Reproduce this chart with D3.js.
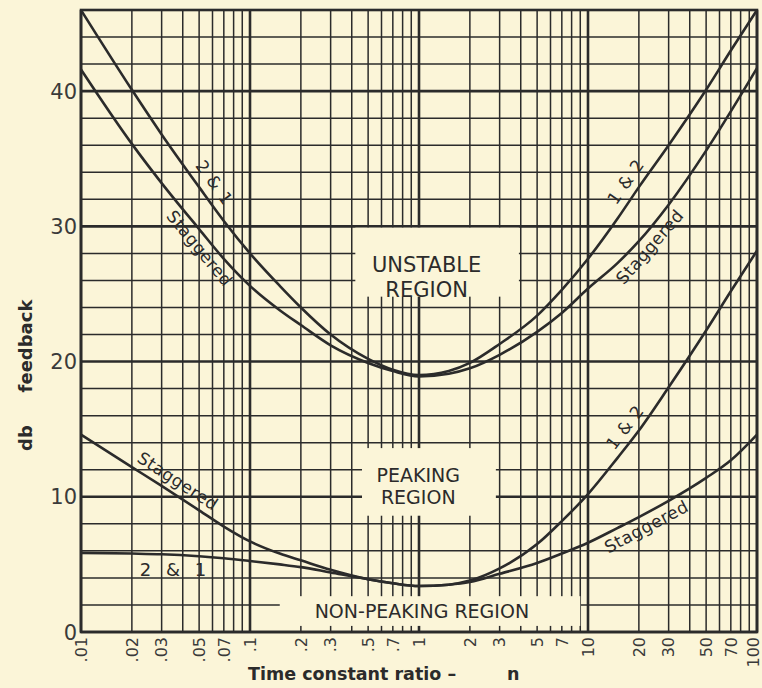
<!DOCTYPE html>
<html><head><meta charset="utf-8">
<script src="https://cdn.jsdelivr.net/npm/d3@7"></script>
<style>
html,body{margin:0;padding:0;background:#fbf5d8;}
svg{display:block;}
</style></head><body>
<svg id="chart" width="762" height="688"></svg>
<script>
// ---- data ----
const nValues = [0.01,0.02,0.03,0.05,0.07,0.1,0.15,0.2,0.3,0.5,0.7,1,1.5,2,3,5,7,10,15,20,30,50,70,100];
const unstableTwoOne    = [46.0,40.1,36.8,32.9,30.4,28.0,25.6,24.0,22.0,20.2,19.4,19.0,19.3,19.9,21.3,23.4,25.3,27.6,30.6,32.9,36.0,40.1,43.0,46.0];
const unstableStaggered = [41.6,36.1,33.2,29.8,27.6,25.6,23.8,22.7,21.2,19.9,19.3,18.9,19.1,19.5,20.5,22.2,23.6,25.4,27.3,28.9,31.6,35.6,38.5,41.7];
const peakingTwoOne     = [5.85,5.8,5.75,5.6,5.45,5.25,5.0,4.8,4.4,3.9,3.6,3.4,3.5,3.8,4.7,6.5,8.2,10.2,12.9,14.9,18.1,22.3,25.2,28.2];
const peakingStaggered  = [14.6,12.2,10.8,9.0,7.8,6.7,5.8,5.3,4.6,3.9,3.6,3.4,3.5,3.7,4.3,5.1,5.8,6.6,7.7,8.5,9.7,11.4,12.7,14.6];
const xTickValues = [0.01,0.02,0.03,0.05,0.07,0.1,0.2,0.3,0.5,0.7,1,2,3,5,7,10,20,30,50,70,100];
const xTickLabels = [".01",".02",".03",".05",".07",".1",".2",".3",".5",".7","1","2","3","5","7","10","20","30","50","70","100"];
const yTickValues = [0,10,20,30,40];
const yTickLabels = ["0","10","20","30","40"];
const regionUnstable = ["UNSTABLE","REGION"];
const regionPeaking = ["PEAKING","REGION"];
const regionNonPeaking = "NON-PEAKING REGION";

// ---- drawing ----
const BG = "#fbf5d8", INK = "#2b2b2b", FONT = "'DejaVu Sans', sans-serif";
const svg = d3.select("#chart");
svg.append("rect").attr("width",762).attr("height",688).attr("fill",BG);

const x = d3.scaleLog().domain([0.01,100]).range([81,757]);
const y = d3.scaleLinear().domain([0,46]).range([632,10]);

const grid = svg.append("g");
const vTicks = x.ticks();
grid.selectAll("line.v").data(vTicks).join("line")
  .attr("x1",d=>x(d)).attr("x2",d=>x(d)).attr("y1",y(0)).attr("y2",y(46))
  .attr("stroke",INK)
  .attr("stroke-width",d=>Math.abs(Math.log10(d)-Math.round(Math.log10(d)))<1e-6?2.6:1.5);
const hTicks = d3.range(0,47,2);
grid.selectAll("line.h").data(hTicks).join("line")
  .attr("x1",x(0.01)).attr("x2",x(100)).attr("y1",d=>y(d)).attr("y2",d=>y(d))
  .attr("stroke",INK)
  .attr("stroke-width",d=>d%10===0?2.6:1.5);

// region boxes (blank the grid under the text)
function box(n0,n1,v0,v1){
  svg.append("rect").attr("x",x(n0)).attr("y",y(v1))
    .attr("width",x(n1)-x(n0)).attr("height",y(v0)-y(v1)).attr("fill",BG);
}
box(0.42,3.9,24.8,29.9);
box(0.46,2.85,8.6,13.6);
box(0.15,9.0,0.45,2.65);

// frame
svg.append("rect").attr("x",x(0.01)).attr("y",y(46)).attr("width",x(100)-x(0.01))
  .attr("height",y(0)-y(46)).attr("fill","none").attr("stroke",INK).attr("stroke-width",2.6);

// curves
const line = d3.line().x(d=>x(d[0])).y(d=>y(d[1])).curve(d3.curveMonotoneX);
const series = [unstableTwoOne,unstableStaggered,peakingTwoOne,peakingStaggered];
series.forEach(s=>{
  svg.append("path").attr("d",line(nValues.map((n,i)=>[n,s[i]])))
    .attr("fill","none").attr("stroke",INK).attr("stroke-width",2.6);
});

function valAt(s,n){
  const ln=Math.log10(n);
  for(let i=0;i<nValues.length-1;i++){
    const a=Math.log10(nValues[i]), b=Math.log10(nValues[i+1]);
    if(ln>=a&&ln<=b){const t=(ln-a)/(b-a);return s[i]+(s[i+1]-s[i])*t;}
  }
  return s[s.length-1];
}
function curveLabel(s,n,text,off,size,opts={}){
  const px=x(n), py=y(valAt(s,n));
  let ang;
  if(opts.angle!==undefined) ang=opts.angle;
  else{
    const n1=n/1.15,n2=n*1.15;
    ang=Math.atan2(y(valAt(s,n2))-y(valAt(s,n1)), x(n2)-x(n1))*180/Math.PI;
  }
  svg.append("text").attr("transform",`translate(${px},${py}) rotate(${ang})`)
    .attr("x",opts.dx||0).attr("y",off).attr("text-anchor","middle")
    .attr("font-family",FONT).attr("font-size",size).attr("fill",INK)
    .attr("word-spacing",opts.ws||0).attr("letter-spacing",opts.ls||0)
    .text(text);
}
curveLabel(unstableTwoOne,0.052,"2 & 1",-9,17,{ws:2});
curveLabel(unstableStaggered,0.057,"Staggered",18,17,{ls:0.5});
curveLabel(unstableTwoOne,19.5,"1 & 2",-8,17,{ws:2});
curveLabel(unstableStaggered,20.5,"Staggered",18,17,{ls:0.5});
curveLabel(peakingStaggered,0.034,"Staggered",-7,17,{ls:0.5});
curveLabel(peakingTwoOne,0.035,"2 & 1",21,18,{angle:0,ws:9});
curveLabel(peakingTwoOne,19,"1 & 2",-7,17,{ws:2});
curveLabel(peakingStaggered,20.5,"Staggered",18,17,{ls:0.5});

// region texts
function regionText(lines,n,v,size,lh){
  const t=svg.append("text").attr("font-family",FONT).attr("font-size",size)
    .attr("fill",INK).attr("text-anchor","middle");
  lines.forEach((l,i)=>t.append("tspan").attr("x",x(n)).attr("y",y(v)+i*lh).text(l));
}
regionText(regionUnstable,1.11,26.6,21,25);
regionText(regionPeaking,0.99,11.1,19,22);
regionText([regionNonPeaking],1.04,1.05,19,0);

// y tick labels
svg.selectAll("text.yt").data(yTickValues).join("text")
  .attr("x",77).attr("y",d=>y(d)).attr("dy","0.36em").attr("text-anchor","end")
  .attr("font-family",FONT).attr("font-size",21).attr("fill","#3a3a3a")
  .text((d,i)=>yTickLabels[i]);

// x tick labels (rotated)
svg.selectAll("text.xt").data(xTickValues).join("text")
  .attr("transform",d=>`translate(${Math.min(x(d),753)},637) rotate(-90)`)
  .attr("dy","0.36em").attr("text-anchor","end")
  .attr("font-family",FONT).attr("font-size",16).attr("fill","#3a3a3a")
  .text((d,i)=>xTickLabels[i]);

// axis titles
svg.append("text").attr("transform","translate(26,346) rotate(-90)").attr("dy","0.36em")
  .attr("text-anchor","middle").attr("font-family",FONT).attr("font-weight","bold")
  .attr("font-size",18).attr("fill",INK).text("feedback");
svg.append("text").attr("transform","translate(26,438) rotate(-90)").attr("dy","0.36em")
  .attr("text-anchor","middle").attr("font-family",FONT).attr("font-weight","bold")
  .attr("font-size",18).attr("fill",INK).text("db");
svg.append("text").attr("x",248).attr("y",680).attr("font-family",FONT).attr("font-weight","bold")
  .attr("font-size",17.5).attr("fill",INK).text("Time constant ratio –");
svg.append("text").attr("x",507).attr("y",680).attr("font-family",FONT).attr("font-weight","bold")
  .attr("font-size",17.5).attr("fill",INK).text("n");
</script>
</body></html>
